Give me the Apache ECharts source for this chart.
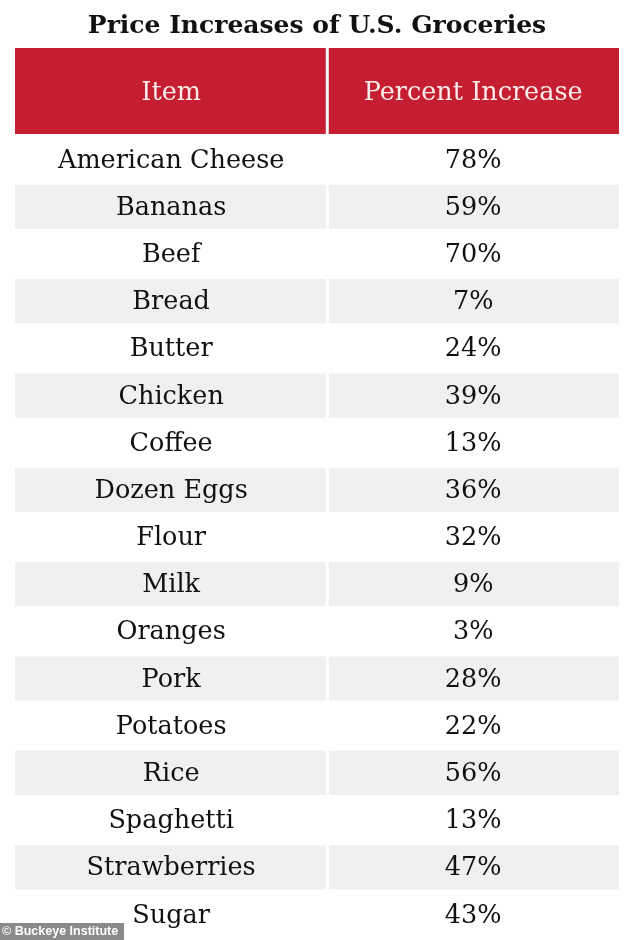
<!DOCTYPE html>
<html>
<head>
<meta charset="utf-8">
<script src="https://cdn.jsdelivr.net/npm/echarts@6/dist/echarts.min.js"></script>
<style>html,body{margin:0;padding:0;background:#fff;}#c{width:634px;height:940px;}</style>
</head>
<body>
<div id="c"></div>
<script>
const titleText = 'Price Increases of U.S. Groceries';
const headers = ['Item', 'Percent Increase'];
const items = ['American Cheese','Bananas','Beef','Bread','Butter','Chicken','Coffee','Dozen Eggs','Flour','Milk','Oranges','Pork','Potatoes','Rice','Spaghetti','Strawberries','Sugar'];
const percent = [78,59,70,7,24,39,13,36,32,9,3,28,22,56,13,47,43];
const credit = '© Buckeye Institute';

const SPLIT = 0.517;
const FONT = 'DejaVu Serif';
const chart = echarts.init(document.getElementById('c'), null, {renderer: 'canvas'});

function cellRects(api, idx) {
  const a = api.coord([0, idx]);
  const b = api.coord([SPLIT, idx]);
  const c = api.coord([1, idx]);
  const h = api.size([0, 1])[1];
  return {x0: a[0], xs: b[0], x1: c[0], yc: a[1], h: h};
}

chart.setOption({
  animation: false,
  title: {
    text: titleText, left: 'center', top: 9,
    textStyle: {fontFamily: FONT, fontWeight: 'bold', fontSize: 25, color: '#111'}
  },
  grid: [
    {left: 15, right: 15, top: 48, height: 86},
    {left: 15, right: 15, top: 136, height: 802}
  ],
  xAxis: [
    {gridIndex: 0, type: 'value', min: 0, max: 1, show: false},
    {gridIndex: 1, type: 'value', min: 0, max: 1, show: false}
  ],
  yAxis: [
    {gridIndex: 0, type: 'category', data: ['header'], show: false},
    {gridIndex: 1, type: 'category', data: items, inverse: true, show: false}
  ],
  series: [
    {
      type: 'custom', xAxisIndex: 0, yAxisIndex: 0,
      data: [[0]],
      renderItem: function (params, api) {
        const r = cellRects(api, 0);
        const top = r.yc - r.h / 2;
        return {type: 'group', children: [
          {type: 'rect', shape: {x: r.x0, y: top, width: r.xs - r.x0 - 1.5, height: r.h}, style: {fill: '#c41e30'}},
          {type: 'rect', shape: {x: r.xs + 1.5, y: top, width: r.x1 - r.xs - 1.5, height: r.h}, style: {fill: '#c41e30'}},
          {type: 'text', style: {text: headers[0], x: (r.x0 + r.xs) / 2, y: r.yc + 2, align: 'center', verticalAlign: 'middle', fill: '#fbeaea', font: '25.5px "' + FONT + '"'}},
          {type: 'text', style: {text: headers[1], x: (r.xs + r.x1) / 2, y: r.yc + 2, align: 'center', verticalAlign: 'middle', fill: '#fbeaea', font: '25.5px "' + FONT + '"'}}
        ]};
      }
    },
    {
      type: 'custom', xAxisIndex: 1, yAxisIndex: 1,
      data: items.map((n, i) => [i, percent[i]]),
      renderItem: function (params, api) {
        const idx = api.value(0);
        const val = api.value(1);
        const r = cellRects(api, idx);
        const top = r.yc - r.h / 2 + 1.5;
        const hh = r.h - 3;
        const ch = [];
        if (idx % 2 === 1) {
          ch.push({type: 'rect', shape: {x: r.x0, y: top, width: r.xs - r.x0 - 1.5, height: hh}, style: {fill: '#f0f0f0'}});
          ch.push({type: 'rect', shape: {x: r.xs + 1.5, y: top, width: r.x1 - r.xs - 1.5, height: hh}, style: {fill: '#f0f0f0'}});
        }
        ch.push({type: 'text', style: {text: items[idx], x: (r.x0 + r.xs) / 2, y: r.yc + 1.5, align: 'center', verticalAlign: 'middle', fill: '#111', font: '25.5px "' + FONT + '"'}});
        ch.push({type: 'text', style: {text: val + '%', x: (r.xs + r.x1) / 2, y: r.yc + 1.5, align: 'center', verticalAlign: 'middle', fill: '#111', font: '25.5px "' + FONT + '"'}});
        return {type: 'group', children: ch};
      }
    }
  ],
  graphic: [
    {type: 'group', left: 0, bottom: 0, children: [
      {type: 'rect', shape: {x: 0, y: 0, width: 124, height: 17}, style: {fill: '#8a8a8a'}},
      {type: 'text', style: {text: credit, x: 2, y: 9, verticalAlign: 'middle', fill: '#fff', font: 'bold 12.5px "Liberation Sans"'}}
    ]}
  ]
});
</script>
</body>
</html>
